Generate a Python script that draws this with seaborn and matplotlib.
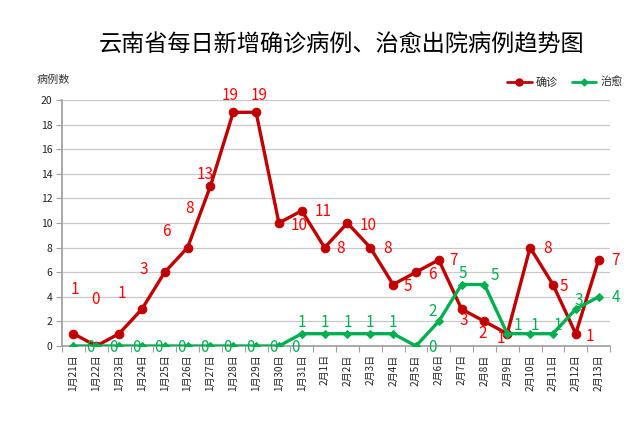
import matplotlib
matplotlib.use("Agg")
import matplotlib.pyplot as plt
import seaborn as sns
import pandas as pd
from matplotlib.lines import Line2D

dates = ["1月21日", "1月22日", "1月23日", "1月24日", "1月25日", "1月26日", "1月27日",
         "1月28日", "1月29日", "1月30日", "1月31日", "2月1日", "2月2日", "2月3日",
         "2月4日", "2月5日", "2月6日", "2月7日", "2月8日", "2月9日", "2月10日",
         "2月11日", "2月12日", "2月13日"]
confirmed = [1, 0, 1, 3, 6, 8, 13, 19, 19, 10, 11, 8, 10, 8, 5, 6, 7, 3, 2, 1, 8, 5, 1, 7]
cured = [0, 0, 0, 0, 0, 0, 0, 0, 0, 0, 1, 1, 1, 1, 1, 0, 2, 5, 5, 1, 1, 1, 3, 4]
yticks = list(range(0, 21, 2))

# label offsets in pixels (dx, dy; dy positive = up)
red_off = [(1, 44), (-1, 46), (3, 40), (2, 40), (2, 41), (2, 39), (-5, 12), (-3, 17), (3, 17),
           (20, -2), (21, -1), (16, -1), (21, -2), (17, -1), (15, -2), (16, -2), (15, -1),
           (2, -11), (-2, -12), (-6, -5), (17, -1), (11, -2), (14, -3), (17, -1)]
grn_off = [(17, -1)] * 10 + [(0, 11), (0, 11), (0, 11), (0, 11), (0, 11), (17, -1), (-6, 10),
                             (1, 11), (10, 9), (11, 8), (5, 8), (5, 8), (3, 9), (17, -1)]

RED = "#C00000"
GREEN = "#00B050"

sns.set_theme(style="white")
plt.rcParams['font.family'] = ['Noto Sans CJK SC', 'DejaVu Sans']

fig = plt.figure(figsize=(6.39, 4.22), dpi=100)
ax = fig.add_axes([62 / 639, 1 - 346 / 422, (610 - 62) / 639, (346 - 100) / 422])

x = list(range(len(dates)))
df = pd.DataFrame({"x": x, "确诊": confirmed, "治愈": cured})

sns.lineplot(data=df, x="x", y="确诊", ax=ax, color=RED, linewidth=2.4,
             marker="o", markersize=6.2, markeredgecolor=RED, markerfacecolor=RED, zorder=3)
sns.lineplot(data=df, x="x", y="治愈", ax=ax, color=GREEN, linewidth=2.4,
             marker="D", markersize=4.5, markeredgecolor=GREEN, markerfacecolor=GREEN, zorder=4)

for i, v in enumerate(confirmed):
    dx, dy = red_off[i]
    ax.annotate(str(v), (i, v), xytext=(dx * 0.72, dy * 0.72), textcoords="offset points",
                ha="center", va="center", color="#FF0000", fontsize=11, zorder=5)
for i, v in enumerate(cured):
    dx, dy = grn_off[i]
    ax.annotate(str(v), (i, v), xytext=(dx * 0.72, dy * 0.72), textcoords="offset points",
                ha="center", va="center", color=GREEN, fontsize=11, zorder=5)

ax.set_xlim(-0.5, len(dates) - 0.5)
ax.set_ylim(0, 20)
ax.set_yticks(yticks)
ax.set_yticklabels([str(t) for t in yticks], fontsize=7.5, color="#222222")
ax.set_xticks(x)
ax.set_xticklabels(dates, rotation=90, fontsize=7.2, color="#222222")
ax.set_xticks([i - 0.5 for i in range(len(dates) + 1)], minor=True)
ax.tick_params(axis="x", which="major", length=0, pad=6)
ax.tick_params(axis="x", which="minor", length=4, width=0.8, color="#A0A0A0", direction="out", bottom=True)
ax.tick_params(axis="y", which="major", length=4, width=0.8, color="#A0A0A0", direction="out", left=True, pad=3)
ax.grid(axis="y", color="#C8C8C8", linewidth=0.9)
ax.grid(axis="x", visible=False)
for s in ["top", "right"]:
    ax.spines[s].set_visible(False)
ax.spines["left"].set_color("#A0A0A0")
ax.spines["bottom"].set_color("#A0A0A0")
ax.set_xlabel("")
ax.set_ylabel("")

fig.text(37 / 639, 1 - 80 / 422, "病例数", fontsize=8, color="#333333", va="center", ha="left")
fig.text(342 / 639, 1 - 45 / 422, "云南省每日新增确诊病例、治愈出院病例趋势图", fontsize=16.7,
         ha="center", va="center", color="black")

handles = [Line2D([], [], color=RED, linewidth=2, marker="o", markersize=5),
           Line2D([], [], color=GREEN, linewidth=2, marker="D", markersize=3.5)]
fig.legend(handles, ["确诊", "治愈"], loc="center", bbox_to_anchor=(565 / 639, 1 - 82 / 422),
           ncol=2, frameon=False, fontsize=8, handlelength=2.2, columnspacing=1.2, handletextpad=0.4)

fig.savefig("out.png", dpi=100)
